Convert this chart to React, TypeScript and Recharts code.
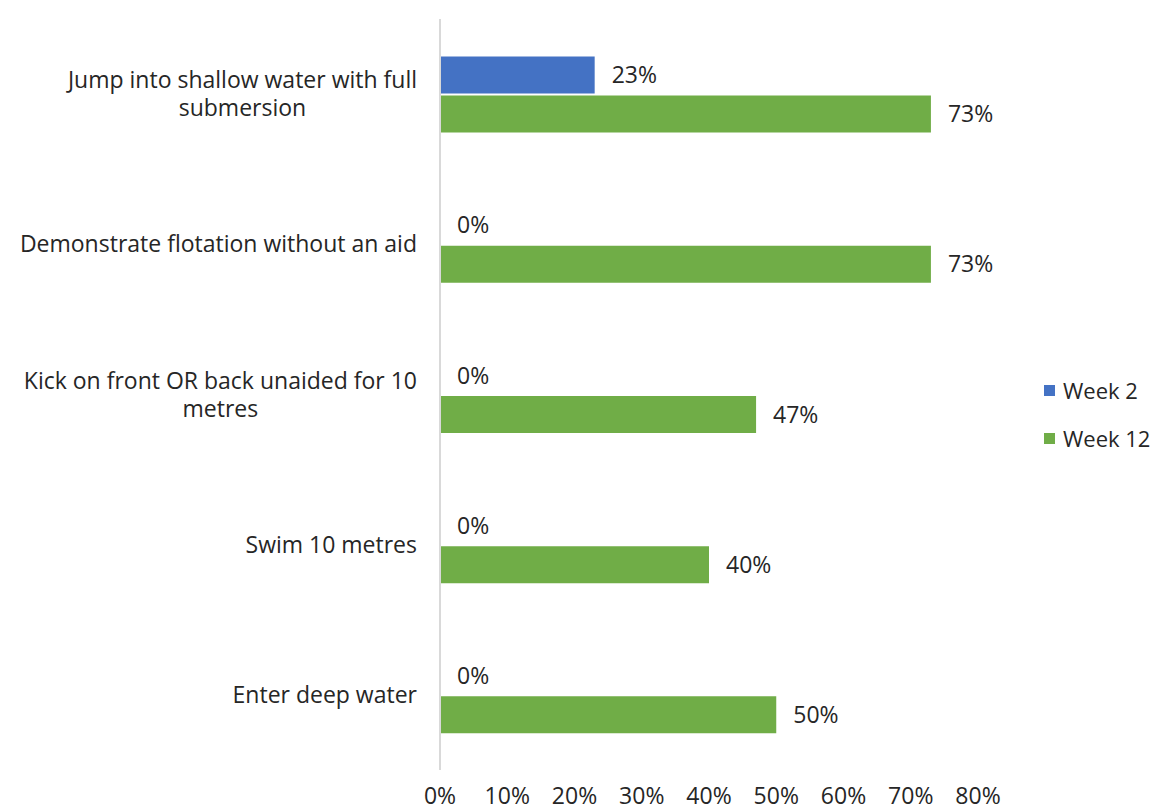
import React from 'react';
import { BarChart, Bar, XAxis, YAxis, LabelList } from 'recharts';

const categories = [
  'Jump into shallow water with full submersion',
  'Demonstrate flotation without an aid',
  'Kick on front OR back unaided for 10 metres',
  'Swim 10 metres',
  'Enter deep water',
];
const week2 = [0.23, 0, 0, 0, 0];
const week12 = [0.73, 0.73, 0.47, 0.4, 0.5];
const xTicks = [0, 0.1, 0.2, 0.3, 0.4, 0.5, 0.6, 0.7, 0.8];

const seriesNames = ['Week 2', 'Week 12'];
const colors = ['#4472C4', '#70AD47'];

const FONT = '"Open Sans", sans-serif';
const FONT_SIZE = 23;
const TEXT = '#262626';
const BAR_GAP = 2;

const data = categories.map((name, i) => ({ name, w2: week2[i], w12: week12[i] }));

let ctx: CanvasRenderingContext2D | null = null;
const measure = (s: string) => {
  if (!ctx) ctx = document.createElement('canvas').getContext('2d');
  if (!ctx) return s.length * 11;
  ctx.font = `${FONT_SIZE}px "Open Sans"`;
  return ctx.measureText(s).width;
};

const wrap = (s: string, maxW: number) => {
  const words = s.split(' ');
  const lines: string[] = [];
  let cur = '';
  words.forEach((w) => {
    const next = cur ? cur + ' ' + w : w;
    if (cur && measure(next) > maxW) {
      lines.push(cur);
      cur = w;
    } else cur = next;
  });
  if (cur) lines.push(cur);
  return lines;
};

const pct = (v: any) => `${Math.round(Number(v) * 100)}%`;

const CategoryTick = (props: any) => {
  const { x, y, payload } = props;
  const lines = wrap(payload.value, 420);
  const maxW = Math.max(...lines.map(measure));
  const cx = x - 23 - maxW / 2;
  const lh = 28;
  return (
    <g>
      {lines.map((l, i) => (
        <text
          key={i}
          x={cx}
          y={y + (i - (lines.length - 1) / 2) * lh}
          dy="0.35em"
          textAnchor="middle"
          fontFamily={FONT}
          fontSize={FONT_SIZE}
          fill={TEXT}
        >
          {l}
        </text>
      ))}
    </g>
  );
};

const PctTick = (props: any) => {
  const { x, y, payload } = props;
  return (
    <text x={x} y={y + 34} textAnchor="middle" fontFamily={FONT} fontSize={FONT_SIZE} fill={TEXT}>
      {pct(payload.value)}
    </text>
  );
};

const labelText = (x: number, y: number, v: number, key?: string) => (
  <text key={key} x={x + 17} y={y} dy="0.35em" fontFamily={FONT} fontSize={FONT_SIZE} fill={TEXT}>
    {pct(v)}
  </text>
);

// Week 2 labels for non-zero bars
const Week2Label = (props: any) => {
  const { x, y, width, height, value } = props;
  if (!Number(width)) return null;
  return labelText(Number(x) + Number(width), Number(y) + Number(height) / 2, value);
};

// Week 12 label, plus the Week 2 "0%" label (zero-width bars are not drawn by recharts)
const Week12Label = (props: any) => {
  const { x, y, width, height, value, index } = props;
  const nx = Number(x), ny = Number(y), nw = Number(width), nh = Number(height);
  const w2 = week2[index];
  return (
    <g>
      {labelText(nx + nw, ny + nh / 2, value, 'a')}
      {w2 === 0 ? labelText(nx, ny - BAR_GAP - nh / 2, 0, 'b') : null}
    </g>
  );
};

const LegendBox = () => (
  <div
    style={{
      position: 'absolute',
      left: 1036,
      top: 358,
      width: 124,
      whiteSpace: 'nowrap',
      fontFamily: FONT,
      fontSize: 22,
      color: TEXT,
    }}
  >
    {seriesNames.map((n, i) => (
      <div key={n} style={{ display: 'flex', alignItems: 'center', height: 48 }}>
        <span style={{ width: 11, height: 11, background: colors[i], marginRight: 8, display: 'inline-block' }} />
        <span>{n}</span>
      </div>
    ))}
  </div>
);

export default function App() {
  return (
    <div style={{ position: 'relative', width: 1152, height: 802, background: '#fff' }}>
      <BarChart
        width={1152}
        height={802}
        data={data}
        layout="vertical"
        margin={{ top: 11, right: 182, bottom: 0, left: 0 }}
        barCategoryGap="25%"
        barGap={BAR_GAP}
      >
        <XAxis
          type="number"
          domain={[0, 0.8]}
          ticks={xTicks}
          axisLine={false}
          tickLine={false}
          tickSize={0}
          tickMargin={0}
          height={40}
          tick={<PctTick />}
          interval={0}
        />
        <YAxis
          type="category"
          dataKey="name"
          width={432}
          axisLine={{ stroke: '#d9d9d9', strokeWidth: 2 }}
          tickLine={false}
          tickSize={0}
          tickMargin={0}
          tick={<CategoryTick />}
          interval={0}
        />
        <Bar dataKey="w2" name="Week 2" fill={colors[0]} isAnimationActive={false}>
          <LabelList dataKey="w2" content={<Week2Label />} />
        </Bar>
        <Bar dataKey="w12" name="Week 12" fill={colors[1]} isAnimationActive={false}>
          <LabelList dataKey="w12" content={<Week12Label />} />
        </Bar>
      </BarChart>
      <LegendBox />
    </div>
  );
}
